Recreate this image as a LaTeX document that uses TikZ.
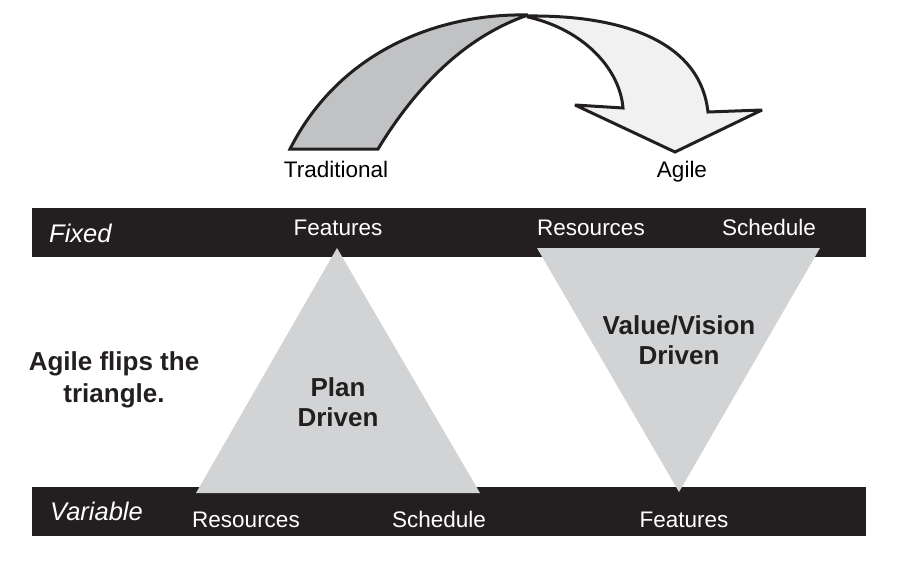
\documentclass[tikz,border=0pt]{standalone}
\usepackage{fontspec}
\setmainfont{Liberation Sans}
\definecolor{barblack}{HTML}{231F20}
\definecolor{trigray}{HTML}{D1D3D4}
\definecolor{arrowgray}{HTML}{C1C2C4}
\definecolor{arrowwhite}{HTML}{F1F1F1}
\begin{document}
\begin{tikzpicture}[x=1pt,y=-1pt,
  bar/.style={fill=barblack,draw=none},
  tri/.style={fill=trigray,draw=none},
  outline/.style={draw=barblack,line width=3pt,line join=miter,miter limit=3},
  lbl/.style={font=\fontsize{22.5}{26}\selectfont,inner sep=0pt,anchor=base},
  barlbl/.style={lbl,text=white},
  rowlbl/.style={font=\fontsize{25.5}{30}\selectfont\itshape,text=white,inner sep=0pt,anchor=base west},
  boldlbl/.style={font=\fontsize{26}{30}\selectfont\bfseries,text=barblack,inner sep=0pt,align=center}]
\useasboundingbox (0,0) rectangle (914,568);
% bars
\fill[bar] (32,208) rectangle (866,257);
\fill[bar] (32,487) rectangle (866,536);
% triangles
\fill[tri] (337,248) -- (480,493) -- (196,493) -- cycle;
\fill[tri] (537,248) -- (820,248) -- (679,492) -- cycle;
% curved arrow: white part (behind)
\path[outline,fill=arrowwhite] (528,16) .. controls (620,15) and (700,40) .. (708,112)
  -- (762,110) -- (675,152) -- (575,105) -- (623,108)
  .. controls (620,70) and (585,30) .. (528,17) -- cycle;
% gray part (front)
\path[outline,fill=arrowgray] (290,149) .. controls (340,50) and (440,13) .. (528,15)
  .. controls (470,35) and (420,80) .. (378,149) -- cycle;
% labels
\node[lbl] (trad) at (336,177) {Traditional};
\node[lbl] (agile) at (682,177) {Agile};
\node[barlbl] (featt) at (338,235) {Features};
\node[barlbl] (rest) at (591,235) {Resources};
\node[barlbl] (scht) at (769,235) {Schedule};
\node[barlbl] (resb) at (246,527) {Resources};
\node[barlbl] (schb) at (439,527) {Schedule};
\node[barlbl] (featb) at (684,527) {Features};
\node[rowlbl] (fixed) at (49,242) {Fixed};
\node[rowlbl] (variable) at (50,520) {Variable};
\node[boldlbl,font=\fontsize{26}{32}\selectfont\bfseries] (flip) at (114,380) {Agile flips the\\triangle.};
\node[boldlbl] (plan) at (338,402) {Plan\\Driven};
\node[boldlbl] (value) at (679,340) {Value/Vision\\Driven};
\end{tikzpicture}
\end{document}
